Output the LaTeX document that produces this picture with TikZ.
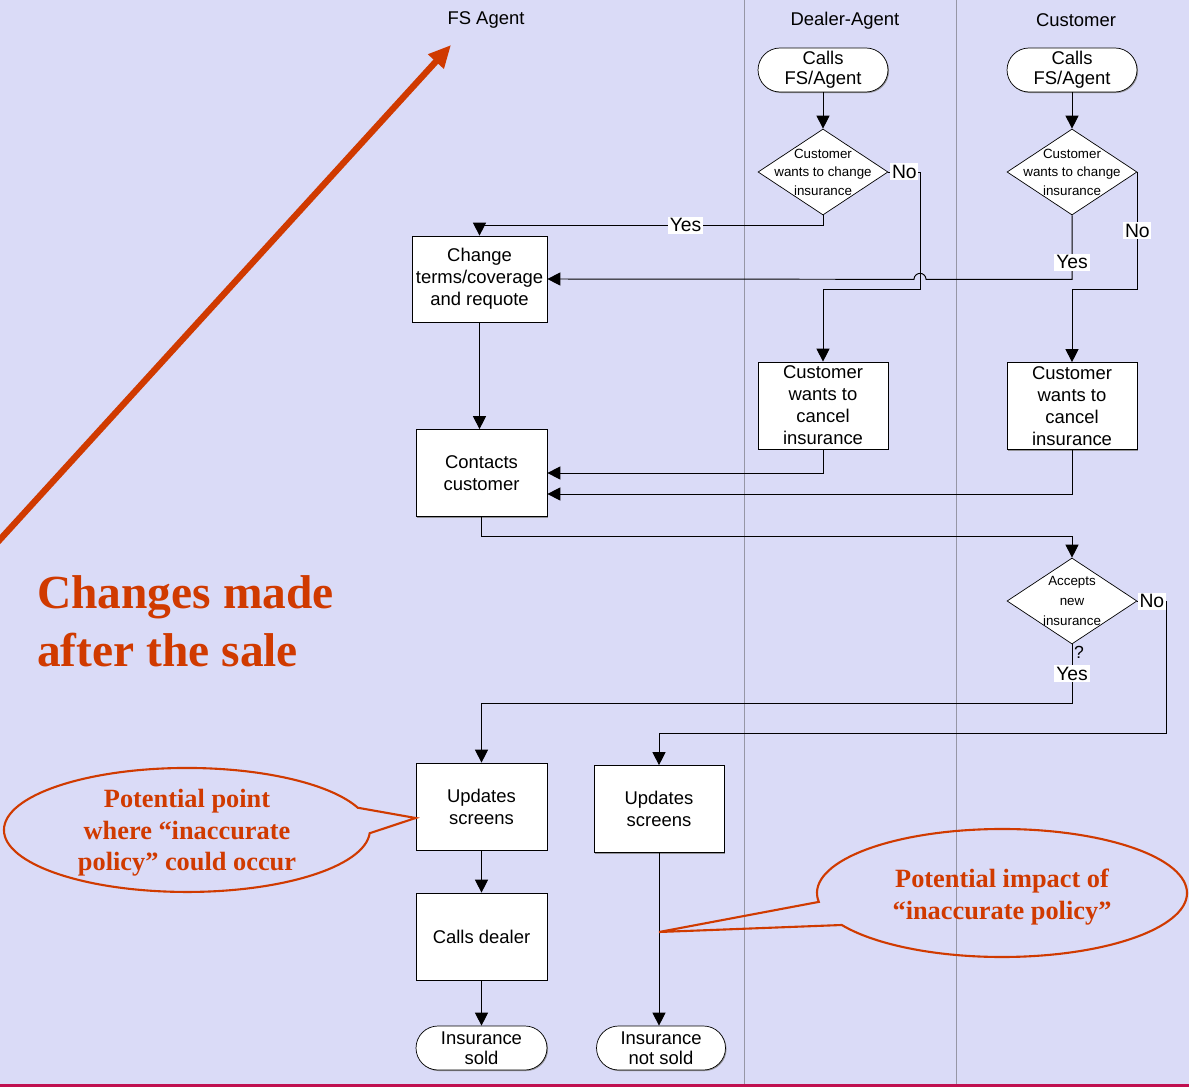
\documentclass[tikz,border=0pt]{standalone}
\usepackage{fontspec}
\setmainfont{Liberation Sans}
\newfontfamily\serifbold{Liberation Serif}
\usetikzlibrary{arrows.meta, shapes.geometric, shadows}
\usepackage{xcolor}
\definecolor{lavender}{RGB}{218,219,247}
\definecolor{rust}{RGB}{208,58,0}
\definecolor{crimson}{RGB}{192,16,80}
\definecolor{lanegray}{RGB}{150,150,165}

\begin{document}
\begin{tikzpicture}[x=0.02cm, y=-0.02cm,
        box/.style={draw, fill=white, minimum width=2.62cm, minimum height=1.74cm, align=center, inner sep=1pt,
            font=\fontsize{10.5}{12.5}\selectfont,
            drop shadow={shadow xshift=0.6pt, shadow yshift=-0.6pt, fill=gray, opacity=0.8}},
        term/.style={box, rounded corners=0.44cm, minimum height=0.88cm, minimum width=2.6cm, inner ysep=0pt,
            font=\fontsize{10.5}{11.3}\selectfont},
        decision/.style={diamond, draw, fill=white, inner sep=0pt, minimum width=2.6cm, minimum height=1.72cm},
        dtext/.style={font=\fontsize{7.6}{10.5}\selectfont, align=center},
        lbl/.style={fill=white, inner sep=1pt, font=\fontsize{11}{13}\selectfont},
        flow/.style={line width=0.55pt, -{Triangle[length=0.26cm, width=0.26cm]}},
        header/.style={font=\fontsize{10.5}{12.5}\selectfont},
        callout/.style={draw=rust, line width=1.2pt},
        redtext/.style={text=rust, font=\serifbold\bfseries\fontsize{15}{18}\selectfont, align=center}]

        % page and lanes
        \path[fill=lavender, use as bounding box] (0,0) rectangle (1189,1087);
        \draw[lanegray, line width=0.55pt] (744,0) -- (744,1084);
        \draw[lanegray, line width=0.55pt] (956,0) -- (956,1084);
        \fill[crimson] (0,1084) rectangle (1189,1087);

        \node[header] (h1) at (486,20) {FS Agent};
        \node[header] (h2) at (845,21) {Dealer-Agent};
        \node[header] (h3) at (1076,20) {Customer};

        % red arrow and title
        \coordinate (rs) at (-5,545);
        \coordinate (rt) at (451,45);
        \draw[rust, line width=3.6pt, -{Triangle[length=0.45cm, width=0.4cm]}] (rs) -- (rt);
        \node[anchor=west, text=rust, align=left, font=\serifbold\bfseries\fontsize{27}{33}\selectfont] (title) at (31,621) {Changes made\\after the sale};

        % dealer lane
        \node[term] (ds) at (823,70) {Calls\\FS/Agent};
        \node[decision, label={[dtext]center:{Customer\\wants to change\\insurance}}] (dd) at (823,172) {};
        \node[box, minimum width=2.6cm] (dc) at (823,405.5) {Customer\\wants to\\cancel\\insurance};

        % customer lane
        \node[term] (cs) at (1072,70) {Calls\\FS/Agent};
        \node[decision, label={[dtext]center:{Customer\\wants to change\\insurance}}] (cd) at (1072,172) {};
        \node[box, minimum width=2.6cm] (cc) at (1072,406) {Customer\\wants to\\cancel\\insurance};
        \node[decision, label={[dtext, font=\fontsize{7.6}{11.2}\selectfont]center:{Accepts\\new\\insurance}}] (ac) at (1072,601) {};
        \node[lbl, fill=none, font=\fontsize{10}{12}\selectfont] (q) at (1079,652) {?};

        % FS agent lane
        \node[box, minimum width=2.7cm, minimum height=1.72cm] (ch) at (479.5,279) {Change\\terms/coverage\\and requote};
        \node[box] (co) at (481.5,473) {Contacts\\customer};
        \node[box] (u1) at (481.5,806.5) {Updates\\screens};
        \node[box] (cdl) at (481.5,936.5) {Calls dealer};
        \node[term, minimum width=2.62cm] (sold) at (481.5,1048) {Insurance\\sold};
        \node[box, minimum width=2.6cm] (u2) at (659,809) {Updates\\screens};
        \node[term, minimum width=2.58cm] (nsold) at (661,1048) {Insurance\\not sold};

        % flows
        \draw[flow] (ds) -- (dd);
        \draw[flow] (cs) -- (cd);
        \draw[flow] (dd.south) -- ++(0,10) -| node[lbl, pos=0.2] {Yes} (ch.north);
        \draw[flow] (dd.east) -- node[lbl] {No} ++(32,0) -- ++(0,117) -| (dc.north);
        \draw[flow] (cd.south) -- node[lbl, pos=0.73] {Yes} ++(0,64) -- ++(-146,0)
            arc[start angle=0, end angle=-180, radius=6] -- (ch.east);
        \draw[flow] (cd.east) -- node[lbl] {No} ++(0,117) -| (cc.north);
        \draw[flow] (ch.south) -- (ch.south |- co.north);
        \draw[flow] (dc.south) |- (co.east);
        \draw[flow] (cc.south) |- ([yshift=-0.42cm]co.east);
        \draw[flow] (co.south) -- ++(0,20) -| (ac.north);
        \draw[flow] (ac.south) -- node[lbl] {Yes} ++(0,59) -| (u1.north);
        \draw[flow] (ac.east) -- node[lbl] {No} ++(29,0) -- ++(0,132) -| (u2.north);
        \draw[flow] (u1) -- (cdl);
        \draw[flow] (cdl) -- (sold);
        \draw[flow] (u2.south) -- (u2.south |- nsold.north);

        % callouts
        \node[redtext] (p1) at (187,833) {Potential point\\where “inaccurate\\policy” could occur};
        \draw[callout] ([yshift=-0.23cm]u1.west) -- (369.7,833.2)
            arc[start angle=3, end angle=339, x radius=183, y radius=62] -- cycle;
        \coordinate (t2) at (659,932);
        \node[redtext] (p2) at (1002,897) {Potential impact of\\“inaccurate policy”};
        \draw[callout] (t2) -- (818.8,901.9)
            arc[start angle=172, end angle=510, x radius=185, y radius=64] -- cycle;
    \end{tikzpicture}
\end{document}
